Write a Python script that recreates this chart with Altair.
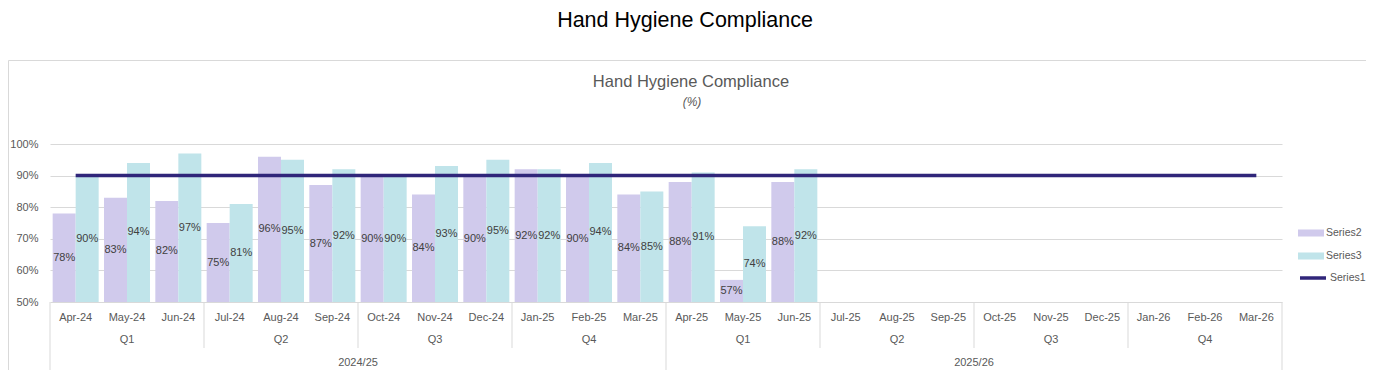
import altair as alt
import pandas as pd

# ---------------- data ----------------
months = ["Apr-24", "May-24", "Jun-24", "Jul-24", "Aug-24", "Sep-24",
          "Oct-24", "Nov-24", "Dec-24", "Jan-25", "Feb-25", "Mar-25",
          "Apr-25", "May-25", "Jun-25", "Jul-25", "Aug-25", "Sep-25",
          "Oct-25", "Nov-25", "Dec-25", "Jan-26", "Feb-26", "Mar-26"]
series2 = [78, 83, 82, 75, 96, 87, 90, 84, 90, 92, 90, 84, 88, 57, 88]
series3 = [90, 94, 97, 81, 95, 92, 90, 93, 95, 92, 94, 85, 91, 74, 92]
series1 = [90, 90, 90, 90, 90, 90, 90, 90, 90, 90, 90, 90,
           90, 90, 90, 90, 90, 90, 90, 90, 90, 90, 90, 90]

quarter_labels = ["Q1", "Q2", "Q3", "Q4", "Q1", "Q2", "Q3", "Q4"]
quarter_mid_months = ["May-24", "Aug-24", "Nov-24", "Feb-25",
                      "May-25", "Aug-25", "Nov-25", "Feb-26"]
quarter_start_months = ["Jul-24", "Oct-24", "Jan-25", "Jul-25", "Oct-25", "Jan-26"]
year_labels = ["2024/25", "2025/26"]
year_mid_months = ["Sep-24", "Sep-25"]
year_start_months = ["Apr-24", "Apr-25"]
year_end_months = ["Mar-26"]
y_ticks = [50, 60, 70, 80, 90, 100]

bar_series = ["Series2", "Series3"]
bar_colors = ["#d0caec", "#c0e4ea"]
line_series = ["Series1"]
line_colors = ["#30267a"]

title_main = "Hand Hygiene Compliance"
title_inner = "Hand Hygiene Compliance"
subtitle_inner = "(%)"

# ---------------- tables ----------------
bars_rows = []
for m, v in zip(months, series2):
    bars_rows.append({"month": m, "series": "Series2", "value": v})
for m, v in zip(months, series3):
    bars_rows.append({"month": m, "series": "Series3", "value": v})
bars_df = pd.DataFrame(bars_rows)
line_df = pd.DataFrame({"month": months, "series": "Series1", "value": series1})
q_df = pd.DataFrame({"month": quarter_mid_months, "label": quarter_labels})
y_df = pd.DataFrame({"month": year_mid_months, "label": year_labels})
qsep_df = pd.DataFrame({"month": quarter_start_months})
ysep_df = pd.DataFrame({"month": year_start_months})
yend_df = pd.DataFrame({"month": year_end_months})

W, H = 1232, 158
FONT = "Liberation Sans"
GREY = "#595959"
LINEGREY = "#d9d9d9"

xscale = alt.Scale(domain=months, paddingInner=0, paddingOuter=0)
yscale = alt.Scale(domain=[50, 100], nice=False, zero=False)
offscale = alt.Scale(domain=bar_series, paddingInner=0, paddingOuter=0.116)

x_axis = alt.Axis(domain=False, ticks=False, labelAngle=0, labelPadding=9,
                  labelFontSize=11, labelColor=GREY, labelFont=FONT, grid=False)
y_axis = alt.Axis(values=y_ticks, labelExpr="datum.value + '%'",
                  domain=False, ticks=False, labelPadding=12, labelFontSize=11,
                  labelColor=GREY, labelFont=FONT, gridColor=LINEGREY, grid=True)


def xm(bp=0.5):
    return alt.X("month:N", scale=xscale, sort=months, axis=x_axis, title=None, bandPosition=bp)


def yv(field):
    return alt.Y(field, scale=yscale, axis=y_axis, title=None)


fill_legend = alt.Legend(title=None, orient="none", legendX=1248, legendY=76,
                         symbolType="M-1,-0.27H1V0.27H-1Z", symbolSize=676, symbolStrokeWidth=0,
                         labelFontSize=10.5, labelColor=GREY, labelFont=FONT, labelOffset=2,
                         rowPadding=4, padding=0)
stroke_legend = alt.Legend(title=None, orient="none", legendX=1248, legendY=119,
                           symbolType="stroke", symbolSize=676, symbolStrokeWidth=3.5,
                           labelFontSize=10.5, labelColor=GREY, labelFont=FONT, labelOffset=2,
                           padding=0)

frame = alt.Chart(pd.DataFrame({"a": [0]})).mark_rect(
    fill="transparent", stroke=LINEGREY, strokeWidth=1).encode(
    x=alt.value(-41.5), x2=alt.value(1400), y=alt.value(-83.5), y2=alt.value(300))

outer_title = alt.Chart(pd.DataFrame({"t": [title_main]})).mark_text(
    font=FONT, fontSize=21.5, color="#000000", align="center", baseline="middle").encode(
    text="t:N", x=alt.value(635), y=alt.value(-123))
inner_title = alt.Chart(pd.DataFrame({"t": [title_inner]})).mark_text(
    font=FONT, fontSize=16.5, color=GREY, align="center", baseline="middle").encode(
    text="t:N", x=alt.value(641), y=alt.value(-62))
inner_sub = alt.Chart(pd.DataFrame({"t": [subtitle_inner]})).mark_text(
    font=FONT, fontSize=12, fontStyle="italic", color=GREY, align="center", baseline="middle").encode(
    text="t:N", x=alt.value(642), y=alt.value(-42))

bars = alt.Chart(bars_df).mark_bar().encode(
    x=xm(),
    xOffset=alt.XOffset("series:N", scale=offscale, sort=bar_series),
    y=yv("value:Q"),
    y2=alt.datum(50),
    fill=alt.Fill("series:N", scale=alt.Scale(domain=bar_series, range=bar_colors),
                  legend=fill_legend),
)

bar_labels = alt.Chart(bars_df).transform_calculate(
    mid="(datum.value + 50) / 2", lab="datum.value + '%'"
).mark_text(font=FONT, fontSize=11, color="#404040", baseline="middle").encode(
    x=xm(),
    xOffset=alt.XOffset("series:N", scale=offscale, sort=bar_series),
    y=yv("mid:Q"),
    text="lab:N",
)

line = alt.Chart(line_df).mark_line(strokeWidth=3.5).encode(
    x=xm(),
    y=yv("value:Q"),
    stroke=alt.Stroke("series:N", scale=alt.Scale(domain=line_series, range=line_colors),
                      legend=stroke_legend),
)

qsep = alt.Chart(qsep_df).mark_rule(color=LINEGREY, strokeWidth=1).encode(
    x=xm(0), y=alt.value(H), y2=alt.value(H + 46))
ysep = alt.Chart(ysep_df).mark_rule(color=LINEGREY, strokeWidth=1).encode(
    x=xm(0), y=alt.value(H), y2=alt.value(H + 70))
yend = alt.Chart(yend_df).mark_rule(color=LINEGREY, strokeWidth=1).encode(
    x=xm(1), y=alt.value(H), y2=alt.value(H + 70))

q_text = alt.Chart(q_df).mark_text(font=FONT, fontSize=11, color=GREY, baseline="middle").encode(
    x=xm(), y=alt.value(H + 38), text="label:N")
y_text = alt.Chart(y_df).mark_text(font=FONT, fontSize=11, color=GREY, baseline="middle").encode(
    x=xm(1), y=alt.value(H + 61), text="label:N")

chart = alt.layer(
    frame, outer_title, inner_title, inner_sub,
    bars, line, bar_labels, qsep, ysep, yend, q_text, y_text
).resolve_scale(fill="independent", stroke="independent").properties(
    width=W, height=H,
    background="white",
    autosize=alt.AutoSizeParams(type="none"),
    padding={"left": 42, "top": 136, "right": 84, "bottom": 68},
).configure_view(stroke=None)

chart.save("out.html", embed_options={"renderer": "svg", "actions": False})
